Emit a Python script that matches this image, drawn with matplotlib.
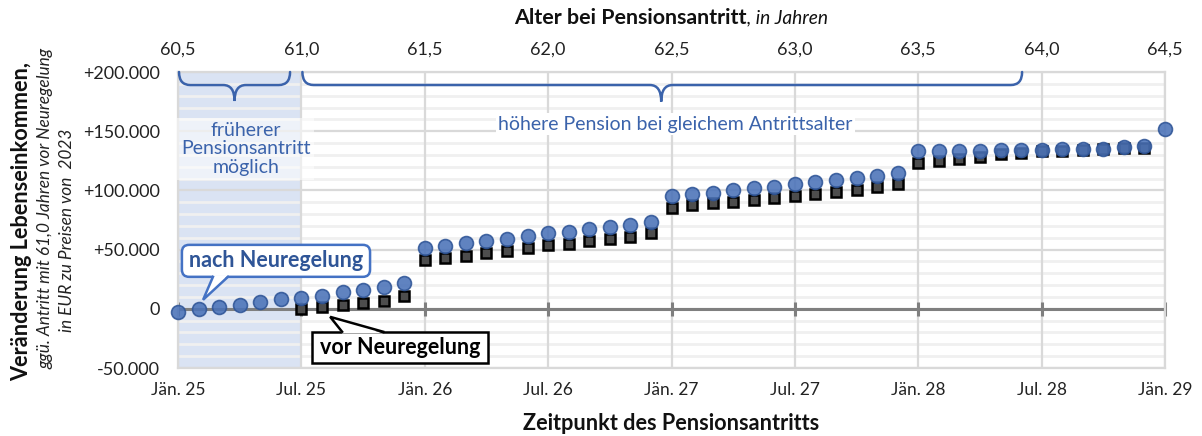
import matplotlib
matplotlib.use("Agg")
import matplotlib.pyplot as plt
from matplotlib.path import Path
from matplotlib.patches import PathPatch, FancyBboxPatch, Polygon
from matplotlib.ticker import FuncFormatter

plt.rcParams['font.family'] = ['Lato', 'DejaVu Sans']

# months since Jan 2025
month_labels = ["Jän. 25", "Jul. 25", "Jän. 26", "Jul. 26", "Jän. 27",
                "Jul. 27", "Jän. 28", "Jul. 28", "Jän. 29"]
age_ticks = [60.5, 61.0, 61.5, 62.0, 62.5, 63.0, 63.5, 64.0, 64.5]

# nach Neuregelung: Jan 25 .. Jan 29 (monthly)
nach = [-2500, 0, 1500, 3200, 5800, 8000, 9500, 11000, 13900, 16000, 18000, 22000,
        51000, 53000, 55500, 57000, 59000, 61300, 63900, 65000, 67000, 69000, 70500, 73000,
        95000, 97000, 98000, 100000, 101700, 102800, 105000, 107100, 108600, 110300, 112000, 115000,
        133400, 133400, 133500, 133600, 134300, 134400, 134500, 134900, 135000, 135100, 136300, 137300,
        152000]
# vor Neuregelung: Jul 25 .. Dez 28 (monthly)
vor_start = 6
vor = [0, 1500, 3000, 5000, 7000, 10500,
       41000, 43200, 44800, 46800, 48800, 51200, 53500, 54500, 56900, 59200, 61000, 63800,
       85000, 87500, 89000, 89800, 91600, 93500, 95000, 97000, 99000, 100500, 103000, 105700,
       123400, 124900, 126300, 128600, 130600, 132000, 133000, 133400, 134300, 135000, 135400, 135800]

W, H = 1202, 436
fig = plt.figure(figsize=(W / 100, H / 100), dpi=100)
L, R, T, B = 178, 1165, 72, 368
ax = fig.add_axes([L / W, 1 - B / H, (R - L) / W, (B - T) / H])

n_months = len(nach) - 1
y_min, y_max = -50000, 200000
ax.set_xlim(0, n_months)
ax.set_ylim(y_min, y_max)

blue_txt = '#3b63ab'
grid_major = '#d9d9d9'

# shaded area: earlier retirement possible
ax.axvspan(0, 6, color='#dae3f3', zorder=0.1, lw=0)

# grid: minor horizontal lines below the major ones
for v in range(y_min, y_max + 1, 10000):
    if v % 50000:
        ax.axhline(v, color='#f0f0f0', lw=2.0, zorder=0.2)
ax.set_axisbelow(True)
ax.set_xticks(range(0, n_months + 1, 6))
ax.set_xticklabels(month_labels)
ax.set_yticks(range(y_min, y_max + 1, 50000))
ax.grid(True, which='major', color=grid_major, lw=1.6)
for s in ax.spines.values():
    s.set_color(grid_major)
    s.set_linewidth(1.6)

ax.tick_params(axis='x', length=0, pad=10, labelsize=12.5, colors='#222222')
ax.tick_params(axis='y', length=0, pad=13, labelsize=13, colors='#222222')


def fmt_y(v, pos):
    s = f"{abs(v):,.0f}".replace(",", ".")
    if v > 0:
        return "+" + s
    if v < 0:
        return "-" + s
    return "0"


ax.yaxis.set_major_formatter(FuncFormatter(fmt_y))

# zero line with ticks
ax.axhline(0, color='#7f7f7f', lw=2.2, zorder=2)
ax.plot(ax.get_xticks(), [0] * len(ax.get_xticks()), ls='none', marker='|',
        ms=10, mew=2.2, color='#7f7f7f', zorder=2, clip_on=False)

# top axis: age at retirement
top = ax.secondary_xaxis('top', functions=(lambda m: 60.5 + m / 12, lambda a: (a - 60.5) * 12))
top.set_xticks(age_ticks)
top.set_xticklabels([f"{a:.1f}".replace(".", ",") for a in age_ticks])
top.tick_params(length=0, pad=10, labelsize=13, colors='#222222')
top.spines['top'].set_visible(False)

# data
vor_x = list(range(vor_start, vor_start + len(vor)))
ax.plot(vor_x, vor, ls='none', marker='s', ms=7.5, mfc='#4d4d4d', mec='black',
        mew=1.8, zorder=4, clip_on=False)
ax.plot(range(len(nach)), nach, ls='none', marker='o', ms=10, mfc='#4a72b8', mec='#2f5597',
        mew=1.2, alpha=0.88, zorder=5, clip_on=False)


def brace(x0, x1, xc, ytop, ymid, ytip, rx):
    verts = [(x0, ytop), (x0, ymid), (x0 + rx, ymid),
             (xc - rx, ymid), (xc, ymid), (xc, ytip),
             (xc, ymid), (xc + rx, ymid),
             (x1 - rx, ymid), (x1, ymid), (x1, ytop)]
    codes = [Path.MOVETO, Path.CURVE3, Path.CURVE3,
             Path.LINETO, Path.CURVE3, Path.CURVE3,
             Path.CURVE3, Path.CURVE3,
             Path.LINETO, Path.CURVE3, Path.CURVE3]
    ax.add_patch(PathPatch(Path(verts, codes), fill=False, ec=blue_txt, lw=1.8,
                           zorder=6, clip_on=False, capstyle='round'))


brace(0.05, 5.45, 2.75, 200000, 189000, 175500, 0.55)
brace(6.05, 41.05, 23.5, 200000, 189000, 175000, 0.55)

ax.text(3.3, 135000, "früherer\nPensionsantritt\nmöglich", ha='center', va='center',
        fontsize=14, color=blue_txt, linespacing=1.12, zorder=6,
        bbox=dict(boxstyle='square,pad=0.2', fc='white', ec='none', alpha=0.55))
ax.text(24.2, 156000, "höhere Pension bei gleichem Antrittsalter", ha='center', va='center',
        fontsize=14, color=blue_txt, zorder=6,
        bbox=dict(boxstyle='square,pad=0.12', fc='white', ec='none'))

# callouts
px_month = (R - L) / n_months
px_val = (B - T) / (y_max - y_min)
aspect = px_month / px_val


def callout(x0, x1, y0, y1, base, tip, edge, text, tcolor, rounded):
    style = 'round,pad=0,rounding_size=0.35' if rounded else 'square,pad=0'
    ax.add_patch(FancyBboxPatch((x0, y0), x1 - x0, y1 - y0, boxstyle=style,
                                mutation_aspect=aspect, fc='white', ec=edge, lw=1.8,
                                zorder=7, clip_on=False))
    by, inside = base[2], base[3]
    ax.add_patch(Polygon([(base[0], by + inside), tip, (base[1], by + inside)],
                         closed=True, fc='white', ec='none', zorder=8, clip_on=False))
    ax.plot([base[0], tip[0], base[1]], [by, tip[1], by], color=edge, lw=1.8,
            zorder=8, clip_on=False, solid_joinstyle='miter')
    ax.text((x0 + x1) / 2, (y0 + y1) / 2, text, ha='center', va='center',
            fontsize=15.5, fontweight='bold', color=tcolor, zorder=9)


callout(0.19, 9.34, 27000, 54000, (1.70, 2.43, 27000, 1500), (1.22, 7600),
        '#4472c4', "nach Neuregelung", '#2f5597', True)
callout(6.52, 15.09, -45600, -19400, (7.98, 9.98, -19400, -1500), (7.4, -6800),
        'black', "vor Neuregelung", 'black', False)

# axis titles
fig.text(747 / W, 1 - 18 / H, "Alter bei Pensionsantritt", ha='right', va='center',
         fontsize=15.4, fontweight='bold', color='#111111')
fig.text(747 / W, 1 - 18 / H, ", in Jahren", ha='left', va='center',
         fontsize=13.8, fontstyle='italic', color='#111111')
fig.text(671 / W, 1 - 423 / H, "Zeitpunkt des Pensionsantritts", ha='center', va='center',
         fontsize=15.6, fontweight='bold', color='#111111')
fig.text(22 / W, 1 - 222 / H, "Veränderung Lebenseinkommen,", rotation=90, ha='center',
         va='center', fontsize=15.6, fontweight='bold', color='#111111')
fig.text(45 / W, 1 - 208 / H, "ggü. Antritt mit 61,0 Jahren vor Neuregelung", rotation=90,
         ha='center', va='center', fontsize=12.4, fontstyle='italic', color='#222222')
fig.text(67 / W, 1 - 230 / H, "in EUR zu Preisen von  2023", rotation=90,
         ha='center', va='center', fontsize=12.4, fontstyle='italic', color='#222222')

fig.savefig("out.png", dpi=100)
